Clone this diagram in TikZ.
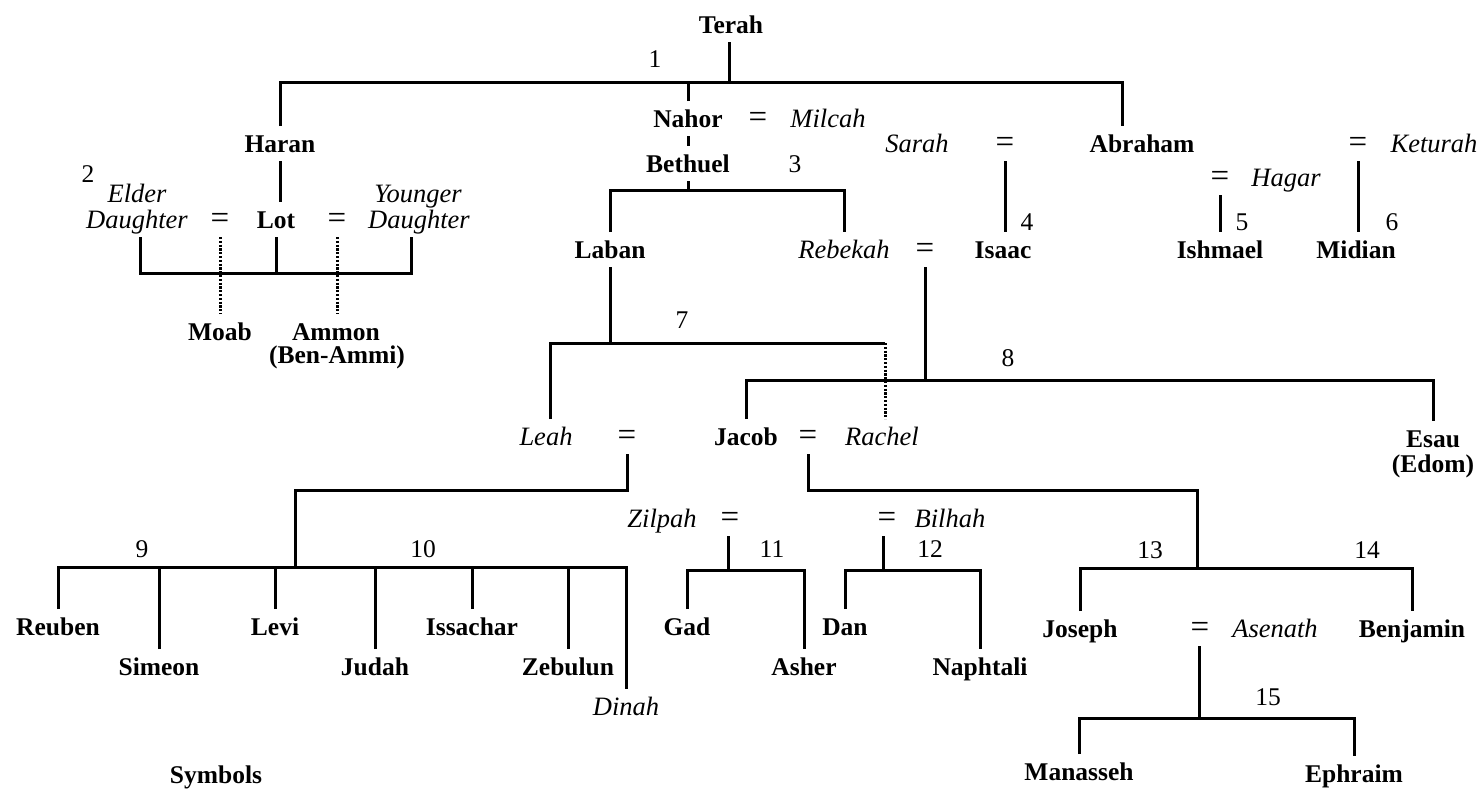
\documentclass[tikz,border=0pt]{standalone}
\usepackage{fontspec}
\setmainfont{Liberation Serif}
\begin{document}
\begin{tikzpicture}[x=1pt,y=-1pt,
  every node/.style={inner sep=0pt, anchor=base},
  nm/.style={font=\fontsize{25.5}{30}\selectfont\bfseries, text height=17pt, text depth=0pt, outer ysep=9pt, outer xsep=0pt},
  fm/.style={font=\fontsize{26.5}{30}\selectfont\itshape, text height=17pt, text depth=0pt, outer ysep=9pt, outer xsep=0pt},
  eq/.style={font=\fontsize{33}{36}\selectfont, text height=17pt, text depth=0pt, outer ysep=9pt, outer xsep=0pt},
  num/.style={font=\fontsize{25.5}{30}\selectfont},
  ln/.style={line width=3pt, line join=miter},
  dotline/.style={line width=3pt, dash pattern=on 2.2pt off 1.6pt}]
\fill[white] (0,0) rectangle (1483,788);
\useasboundingbox (0,0) rectangle (1483,788);

% ---- generation 0/1
\node[nm] (terah) at (731,33) {Terah};
\node[num] (n1) at (655,67) {1};
\node[nm] (haran) at (280,152) {Haran};
\node[nm] (nahor) at (688,127) {Nahor};
\node[eq] (eqnah) at (758,127) {=};
\node[fm] (milcah) at (828,127) {Milcah};
\node[nm] (bethuel) at (688,172) {Bethuel};
\node[num] (n3) at (795,172) {3};
\node[fm] (sarah) at (917,152) {Sarah};
\node[eq] (eqsar) at (1005,152) {=};
\node[nm] (abraham) at (1142,152) {Abraham};
\node[eq] (eqket) at (1358,152) {=};
\node[fm] (keturah) at (1434,152) {Keturah};
\node[eq] (eqhag) at (1220,186) {=};
\node[fm] (hagar) at (1286,186) {Hagar};
\node[nm] (isaac) at (1003,258) {Isaac};
\node[nm] (ishmael) at (1220,258) {Ishmael};
\node[nm] (midian) at (1356,258) {Midian};
\node[num] (n4) at (1027,230) {4};
\node[num] (n5) at (1242,230) {5};
\node[num] (n6) at (1392,230) {6};

% ---- Lot
\node[num] (n2) at (88,182) {2};
\node[fm] (elder1) at (137,202) {Elder};
\node[fm] (elder2) at (137,228) {Daughter};
\node[eq] (eqlot1) at (220,228) {=};
\node[nm] (lot) at (276,228) {Lot};
\node[eq] (eqlot2) at (337,228) {=};
\node[fm] (younger1) at (418,202) {Younger};
\node[fm] (younger2) at (419,228) {Daughter};
\node[nm] (moab) at (220,340) {Moab};
\node[nm] (ammon) at (336,340) {Ammon};
\node[nm] (benammi) at (337,363) {(Ben-Ammi)};

% ---- Bethuel's line
\node[nm] (laban) at (610,258) {Laban};
\node[fm] (rebekah) at (844,258) {Rebekah};
\node[eq] (eqreb) at (925,258) {=};
\node[num] (n7) at (682,328) {7};
\node[num] (n8) at (1008,366) {8};
\node[fm] (leah) at (546,445) {Leah};
\node[eq] (eqleah) at (627,445) {=};
\node[nm] (jacob) at (746,445) {Jacob};
\node[eq] (eqjac) at (808,445) {=};
\node[fm] (rachel) at (882,445) {Rachel};
\node[nm] (esau) at (1433,447) {Esau};
\node[nm] (edom) at (1433,472) {(Edom)};

% ---- Jacob's children
\node[num] (n9) at (142,557) {9};
\node[num] (n10) at (423,557) {10};
\node[fm] (zilpah) at (662,527) {Zilpah};
\node[eq] (eqzil) at (730,527) {=};
\node[eq] (eqbil) at (887,527) {=};
\node[fm] (bilhah) at (950,527) {Bilhah};
\node[num] (n11) at (772,557) {11};
\node[num] (n12) at (930,557) {12};
\node[num] (n13) at (1150,558) {13};
\node[num] (n14) at (1367,558) {14};
\node[nm] (reuben) at (58,635) {Reuben};
\node[nm] (simeon) at (159,675) {Simeon};
\node[nm] (levi) at (275,635) {Levi};
\node[nm] (judah) at (375,675) {Judah};
\node[nm] (issachar) at (472,635) {Issachar};
\node[nm] (zebulun) at (568,675) {Zebulun};
\node[fm] (dinah) at (626,715) {Dinah};
\node[nm] (gad) at (687,635) {Gad};
\node[nm] (asher) at (804,675) {Asher};
\node[nm] (dan) at (845,635) {Dan};
\node[nm] (naphtali) at (980,675) {Naphtali};
\node[nm] (joseph) at (1080,637) {Joseph};
\node[eq] (eqase) at (1200,637) {=};
\node[fm] (asenath) at (1275,637) {Asenath};
\node[nm] (benjamin) at (1412,637) {Benjamin};
\node[num] (n15) at (1268,705) {15};
\node[nm] (manasseh) at (1079,780) {Manasseh};
\node[nm] (ephraim) at (1354,782) {Ephraim};
\node[nm] (symbols) at (216,783) {Symbols};

% ---- bar coordinates
\coordinate (b1) at (729,82);
\coordinate (b2) at (276,273);
\coordinate (b3) at (689,190);
\coordinate (b7) at (610,343);
\coordinate (b8) at (925,380);
\coordinate (lj) at (626,490);
\coordinate (b9) at (295,567);
\coordinate (b11) at (728,570);
\coordinate (b12) at (883,570);
\coordinate (jr) at (805,490);
\coordinate (b13) at (1197,568);
\coordinate (b15) at (1199,718);

% ---- connectors
\draw[ln] (terah.south -| b1) -- (b1);
\draw[ln] (haran.north) |- (b1) -| ([xshift=-20pt]abraham.north);
\draw[ln] (nahor.north) -- (nahor.north |- b1);
\draw[ln] (nahor.south) -- (bethuel.north);
\draw[ln] (bethuel.south) -- (bethuel.south |- b3);
\draw[ln] (laban.north) |- (b3) -| (rebekah.north);
\draw[ln] (eqsar.south) -- (eqsar.south |- isaac.north);
\draw[ln] (eqhag.south) -- (ishmael.north);
\draw[ln] (eqket.south) -- (eqket.south |- midian.north);

\draw[ln] (haran.south) -- (haran.south |- lot.north);
\draw[ln] (lot.south) -- (b2);
\draw[ln] ([xshift=3pt]elder2.south) |- (b2) -| ([xshift=-8pt]younger2.south);
\draw[dotline] (eqlot1.south) -- (moab.north);
\draw[dotline] (eqlot2.south) -- (eqlot2.south |- ammon.north);

\draw[ln] (laban.south) -- (b7);
\draw[ln] ([xshift=4pt]leah.north) |- (b7) -- ([xshift=3pt]rachel.north |- b7);
\draw[dotline] ([xshift=3pt]rachel.north |- b7) -- ([xshift=3pt]rachel.north);
\draw[ln] (eqreb.south) -- (b8);
\draw[ln] (jacob.north) |- (b8) -| (esau.north);

\draw[ln] (eqleah.south) |- (b9 |- lj) -- (b9);
\draw[ln] (reuben.north) |- (b9) -| (dinah.north);
\draw[ln] (simeon.north) -- (simeon.north |- b9);
\draw[ln] (levi.north) -- (levi.north |- b9);
\draw[ln] (judah.north) -- (judah.north |- b9);
\draw[ln] (issachar.north) -- (issachar.north |- b9);
\draw[ln] (zebulun.north) -- (zebulun.north |- b9);

\draw[ln] (eqzil.south -| b11) -- (b11);
\draw[ln] (gad.north) |- (b11) -| (asher.north);
\draw[ln] (eqbil.south -| b12) -- (b12);
\draw[ln] (dan.north) |- (b12) -| (naphtali.north);

\draw[ln] (eqjac.south) |- (b13 |- jr) -- (b13);
\draw[ln] (joseph.north) |- (b13) -| (benjamin.north);
\draw[ln] (eqase.south -| b15) -- (b15);
\draw[ln] (manasseh.north) |- (b15) -| (ephraim.north);
\end{tikzpicture}
\end{document}
